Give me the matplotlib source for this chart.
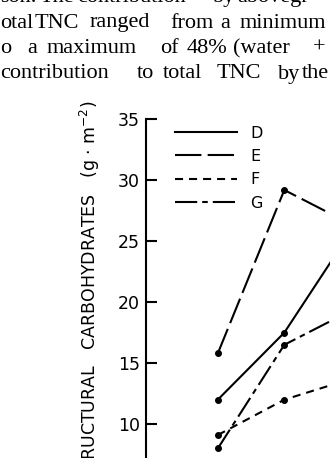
"""Scanned fragment: nonstructural carbohydrates for series D-G, with the
paragraph text that sits above the figure on the page."""

import matplotlib
matplotlib.use("Agg")
import matplotlib.pyplot as plt

plt.rcParams["lines.scale_dashes"] = False
plt.rcParams["font.family"] = "DejaVu Sans"

# sampling occasions (only the first two fall inside the crop)
occasion = [1, 2, 3]
series_d = [12.0, 17.5, 25.8]
series_e = [15.8, 29.2, 26.4]
series_f = [9.1, 12.0, 13.7]
series_g = [8.0, 16.5, 19.3]
labels = ["D", "E", "F", "G"]
yticks = [0, 5, 10, 15, 20, 25, 30, 35]

paragraph = [
    ["son.", "The", "contribution", "by", "abovegr"],
    ["otal", "TNC", "ranged", "from", "a", "minimum"],
    ["o", "a", "maximum", "of", "48%", "(water", "+"],
    ["contribution", "to", "total", "TNC", "by", "the"],
]
word_x = [
    [0, 40, 77, 213, 237],
    [0, 35, 90, 170, 220, 240],
    [0, 27, 47, 160, 187, 233, 313],
    [0, 137, 163, 217, 278, 302],
]
baselines = [2, 27.5, 53, 78.5]

W, H = 330, 458
fig = plt.figure(figsize=(W / 100, H / 100), dpi=100)

for words, xs, base in zip(paragraph, word_x, baselines):
    for w, x in zip(words, xs):
        fig.text(x / W, 1 - base / H, w, family="Liberation Serif",
                 fontsize=16, va="baseline", ha="left", color="black")

# axes: spine at x=146 px, 35 at y=119 px, 12.19 px per unit
px_unit = 12.19
top = 119.3
ax = fig.add_axes([146 / W, (H - top - 35 * px_unit) / H,
                   5 * 66.5 / W, 35 * px_unit / H])
ax.set_xlim(-0.08, 4.92)
ax.set_ylim(0, 35)

styles = [
    dict(linestyle="-"),
    dict(linestyle=(0, (19, 4.5))),
    dict(linestyle=(0, (5.8, 4.3))),
    dict(linestyle=(0, (16, 3.6, 4, 3.6))),
]
for vals, lab, st in zip([series_d, series_e, series_f, series_g], labels, styles):
    ax.plot(occasion, vals, color="black", linewidth=1.5, marker="o",
            markersize=4, label=lab, clip_on=False, **st)

ax.spines[["top", "right", "bottom"]].set_visible(False)
ax.spines["left"].set_linewidth(1.5)
ax.set_xticks([])
ax.set_yticks(yticks)
ax.tick_params(axis="y", direction="in", length=8, width=1.5, pad=4.5,
               labelsize=12.5)

leg = ax.legend(loc="upper left", bbox_to_anchor=(175 / W, 1 - 125.5 / H),
                bbox_transform=fig.transFigure, frameon=False,
                handlelength=3.9, handletextpad=0.8, labelspacing=0.53,
                borderpad=0, borderaxespad=0, prop={"size": 11.5})
for line in leg.get_lines():
    line.set_marker("")

fig.text(89.5 / W, 1 - 101 / H,
         "NONSTRUCTURAL   CARBOHYDRATES   (g \u00b7 m$^{-2}$)",
         rotation=90, ha="center", va="top", fontsize=12.5)

fig.savefig("out.png", dpi=100)
